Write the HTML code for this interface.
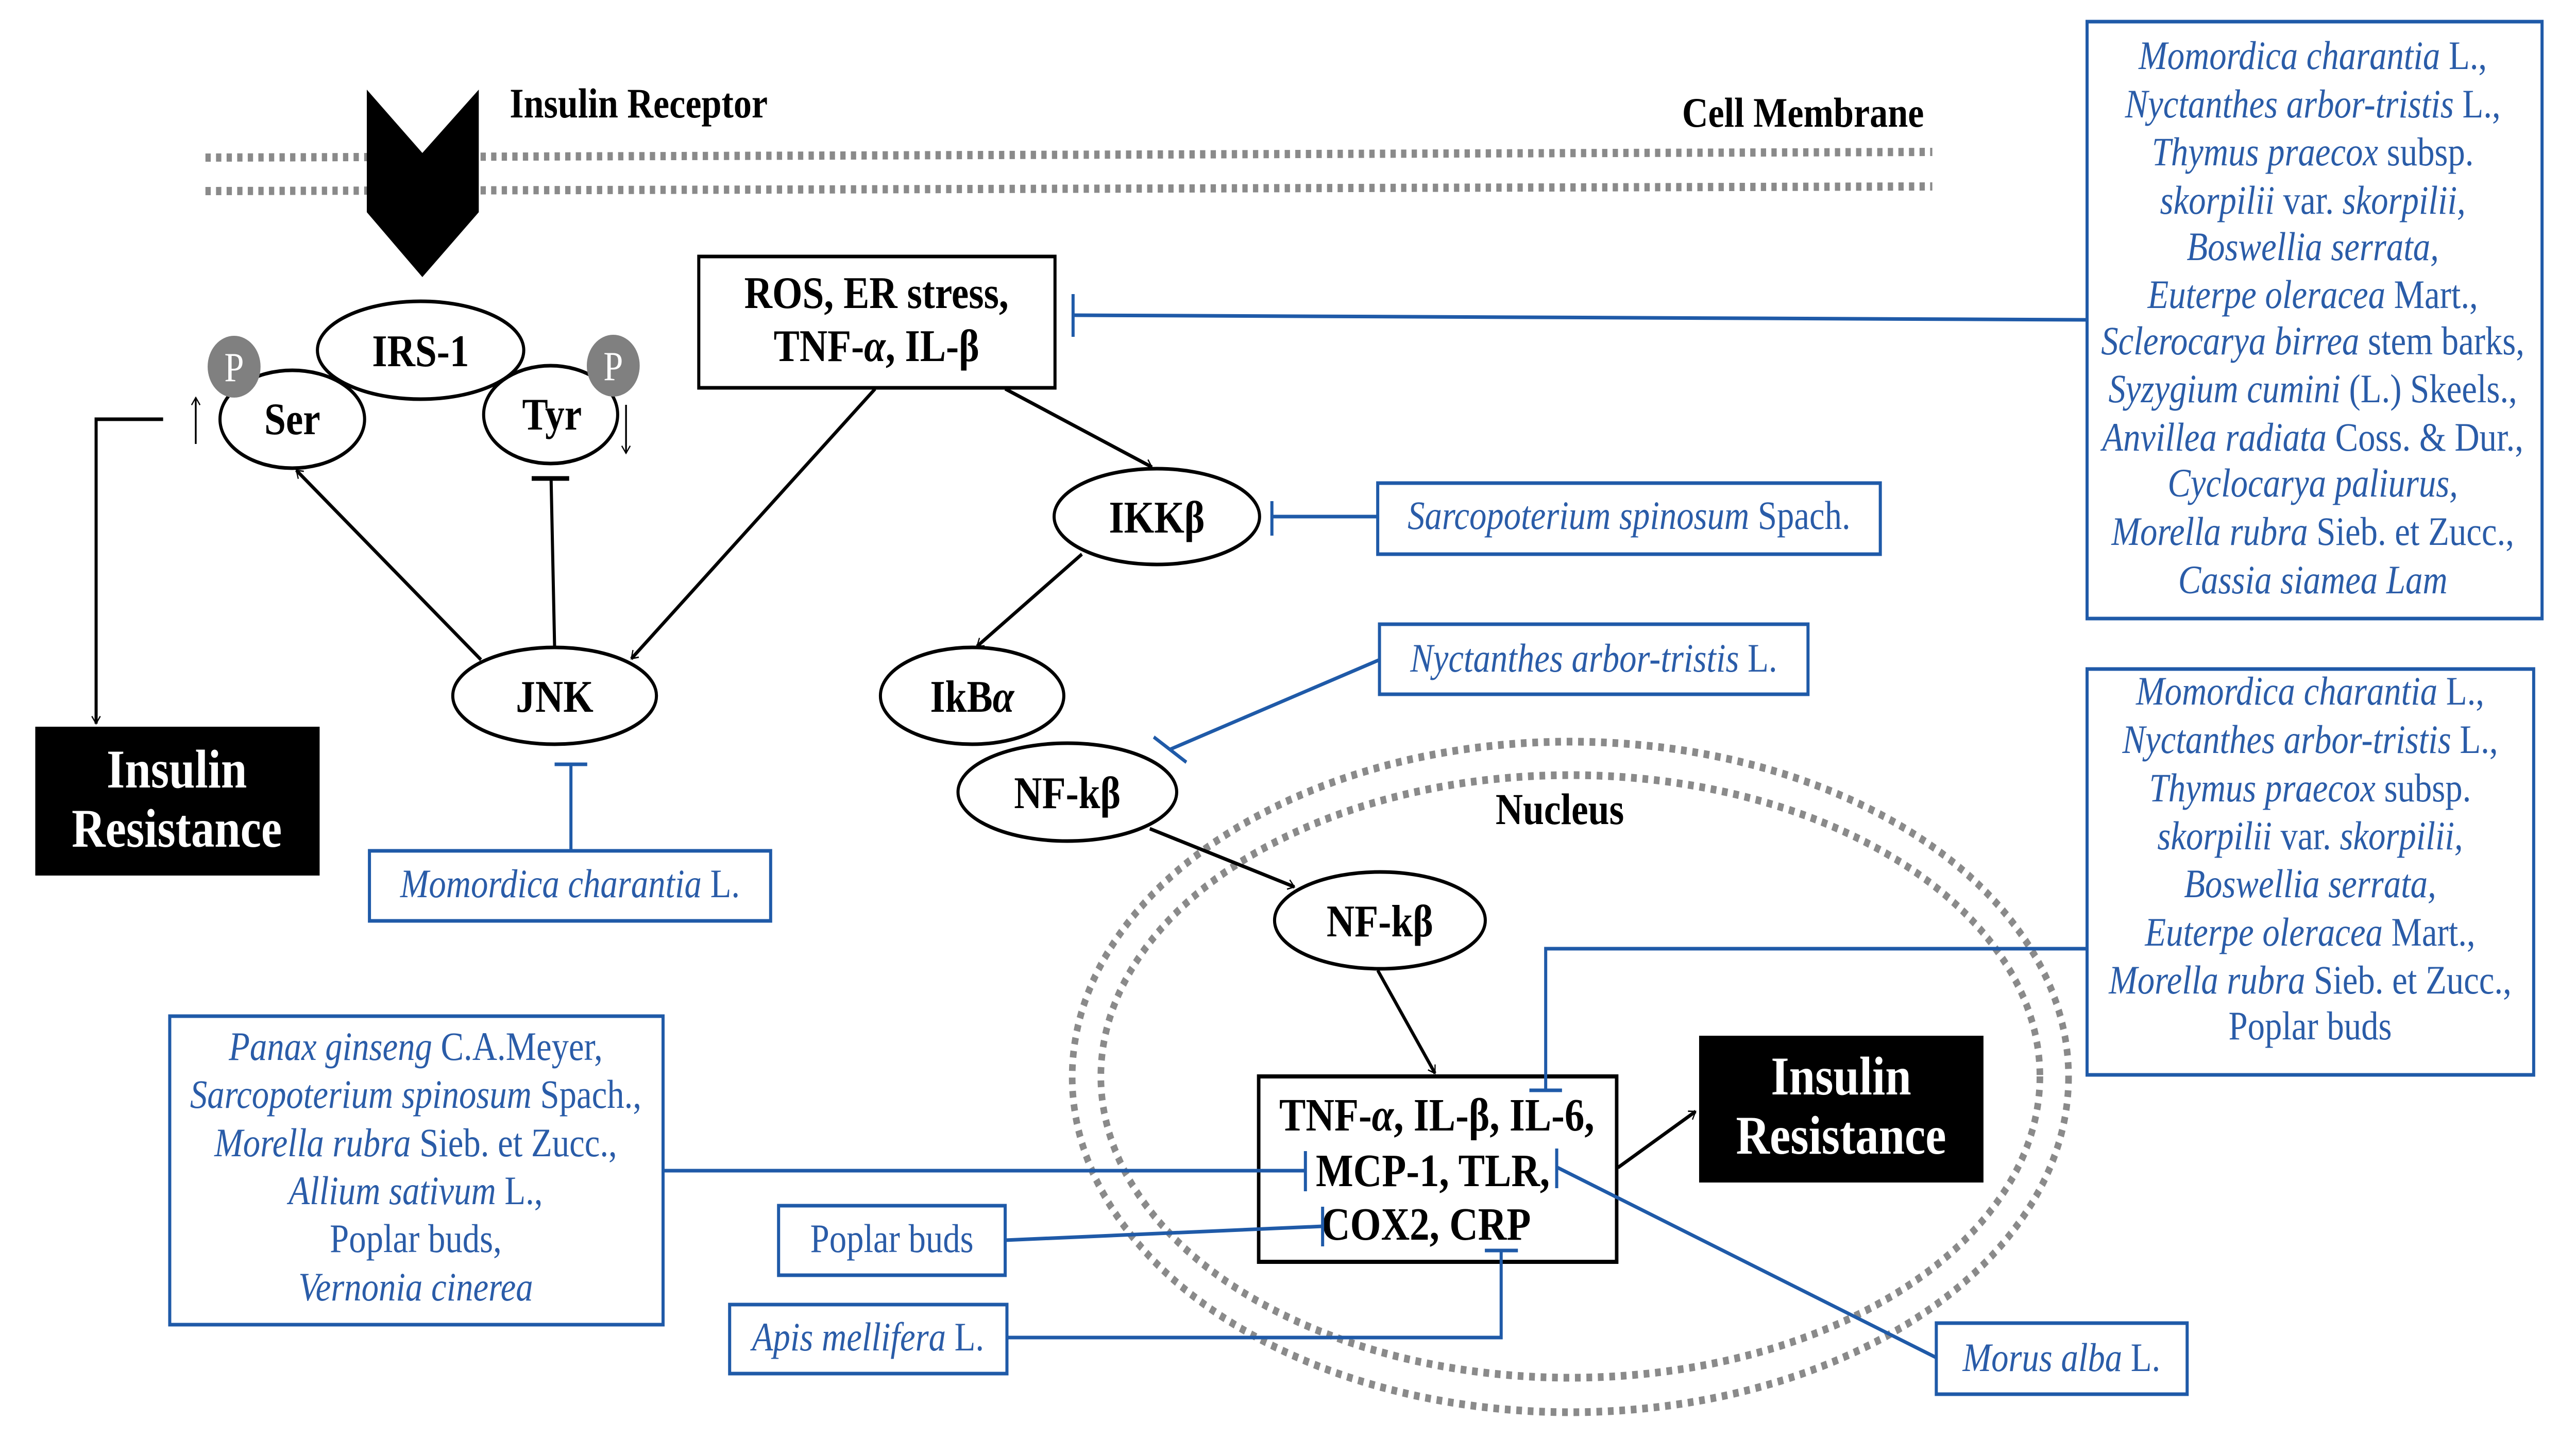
<!DOCTYPE html>
<html><head><meta charset="utf-8"><style>
html,body{margin:0;padding:0;background:#fff;overflow:hidden;width:100%;height:100%;}
svg{display:block;position:absolute;left:0;top:0;width:100vw;height:100vh;}
.b{font-family:"Liberation Serif",serif;font-weight:bold;fill:#000;text-anchor:middle;}
.w{font-family:"Liberation Serif",serif;font-weight:bold;fill:#fff;text-anchor:middle;font-size:106px;}
.t{font-family:"Liberation Serif",serif;fill:#2a5ca8;text-anchor:middle;font-size:78px;}
.i{font-style:italic;}
.bl{stroke:#1f5aa8;stroke-width:7;fill:none;}
.k{stroke:#000;stroke-width:7;fill:none;}
</style></head><body>
<svg viewBox="0 0 5843 2794" preserveAspectRatio="none" xmlns="http://www.w3.org/2000/svg">
<defs>
<marker id="a" viewBox="0 0 20 20" refX="18" refY="10" markerWidth="10" markerHeight="10" markerUnits="userSpaceOnUse" orient="auto" style="overflow:visible">
<path d="M-30,-22 L18,10 L-30,42" transform="scale(0.6) translate(12,7)" fill="none" stroke="#000" stroke-width="9"/>
</marker>
</defs>
<rect width="5843" height="2794" fill="#fff"/>

<line x1="466" y1="306" x2="4383" y2="295" stroke="#8a8a8a" stroke-width="16" stroke-dasharray="12 12"/>
<line x1="466" y1="371" x2="4383" y2="362" stroke="#8a8a8a" stroke-width="16" stroke-dasharray="12 12"/>
<polygon points="832,174 958,297 1086,174 1086,412 958,538 832,412" fill="#000"/>
<text x="1156" y="228" class="b" style="text-anchor:start;font-size:82px">Insulin Receptor</text>
<text x="4364" y="246" class="b" style="text-anchor:end;font-size:82px">Cell Membrane</text>

<ellipse cx="663" cy="814" rx="164" ry="95" fill="#fff" stroke="#000" stroke-width="7"/>
<ellipse cx="1249" cy="805" rx="152" ry="95" fill="#fff" stroke="#000" stroke-width="7"/>
<ellipse cx="954" cy="680" rx="234" ry="95" fill="#fff" stroke="#000" stroke-width="7"/>
<circle cx="531" cy="712" r="60" fill="#808080"/>
<circle cx="1391" cy="710" r="60" fill="#808080"/>
<text x="531" y="740" style="font-family:'Liberation Serif',serif;font-size:80px;fill:#fff;text-anchor:middle">P</text>
<text x="1391" y="738" style="font-family:'Liberation Serif',serif;font-size:80px;fill:#fff;text-anchor:middle">P</text>
<text x="954" y="711" class="b" style="font-size:88px">IRS-1</text>
<text x="663" y="843" class="b" style="font-size:88px">Ser</text>
<text x="1252" y="834" class="b" style="font-size:88px">Tyr</text>
<line x1="444" y1="862" x2="444" y2="772" stroke="#000" stroke-width="4" marker-end="url(#a)"/>
<line x1="1420" y1="786" x2="1420" y2="880" stroke="#000" stroke-width="4" marker-end="url(#a)"/>

<polyline points="370,814 218,814 218,1405" class="k" marker-end="url(#a)"/>
<rect x="80" y="1411" width="645" height="289" fill="#000"/>
<text x="401" y="1529" class="w">Insulin</text>
<text x="401" y="1644" class="w">Resistance</text>

<rect x="1585" y="498" width="808" height="255" fill="#fff" stroke="#000" stroke-width="7"/>
<text x="1988" y="598" class="b" style="font-size:88px">ROS, ER stress,</text>
<text x="1988" y="701" class="b" style="font-size:88px">TNF-<tspan font-style="italic">α</tspan>, IL-β</text>

<ellipse cx="1258" cy="1351" rx="231" ry="94" fill="#fff" stroke="#000" stroke-width="7"/>
<text x="1258" y="1382" class="b" style="font-size:88px">JNK</text>
<line x1="1091" y1="1281" x2="672" y2="913" class="k" marker-end="url(#a)"/>
<line x1="1258" y1="1257" x2="1250" y2="929" class="k"/>
<line x1="1206" y1="929" x2="1291" y2="929" stroke="#000" stroke-width="9"/>
<line x1="1985" y1="755" x2="1432" y2="1279" class="k" marker-end="url(#a)"/>
<line x1="2280" y1="755" x2="2613" y2="907" class="k" marker-end="url(#a)"/>

<ellipse cx="2624" cy="1003" rx="233" ry="93" fill="#fff" stroke="#000" stroke-width="7"/>
<text x="2624" y="1034" class="b" style="font-size:88px">IKKβ</text>
<line x1="2454" y1="1076" x2="2216" y2="1255" class="k" marker-end="url(#a)"/>
<ellipse cx="2205" cy="1351" rx="208" ry="94" fill="#fff" stroke="#000" stroke-width="7"/>
<text x="2205" y="1382" class="b" style="font-size:88px">IkB<tspan font-style="italic">α</tspan></text>
<ellipse cx="2421" cy="1538" rx="248" ry="95" fill="#fff" stroke="#000" stroke-width="7"/>
<text x="2421" y="1569" class="b" style="font-size:88px">NF-kβ</text>

<ellipse cx="3562" cy="2091" rx="1130" ry="651" fill="none" stroke="#8a8a8a" stroke-width="15" stroke-dasharray="13 13"/>
<ellipse cx="3562" cy="2090" rx="1065" ry="585" fill="none" stroke="#8a8a8a" stroke-width="15" stroke-dasharray="13 13"/>
<text x="3538" y="1600" class="b" style="font-size:86px">Nucleus</text>
<line x1="2608" y1="1609" x2="2936" y2="1722" class="k" marker-end="url(#a)"/>
<ellipse cx="3130" cy="1787" rx="239" ry="94" fill="#fff" stroke="#000" stroke-width="7"/>
<text x="3130" y="1818" class="b" style="font-size:88px">NF-kβ</text>
<line x1="3125" y1="1884" x2="3255" y2="2084" class="k" marker-end="url(#a)"/>

<rect x="2855" y="2090" width="812" height="360" fill="#fff" stroke="#000" stroke-width="8"/>
<text x="3259" y="2195" class="b" style="font-size:90px">TNF-<tspan font-style="italic">α</tspan>, IL-β, IL-6,</text>
<text x="3250" y="2303" class="b" style="font-size:90px">MCP-1, TLR,</text>
<text x="3235" y="2407" class="b" style="font-size:90px">COX2, CRP</text>
<line x1="3670" y1="2267" x2="3846" y2="2158" class="k" marker-end="url(#a)"/>
<rect x="3854" y="2011" width="645" height="285" fill="#000"/>
<text x="4176" y="2125" class="w">Insulin</text>
<text x="4176" y="2240" class="w">Resistance</text>

<line x1="2434" y1="612" x2="4734" y2="621" class="bl"/>
<line x1="2434" y1="571" x2="2434" y2="654" class="bl"/>
<rect x="4734" y="42" width="1032" height="1159" fill="#fff" class="bl"/>
<text class="t"><tspan x="5246" y="134"><tspan class="i">Momordica charantia</tspan> L.,</tspan><tspan x="5246" y="228"><tspan class="i">Nyctanthes arbor-tristis</tspan> L.,</tspan><tspan x="5246" y="321"><tspan class="i">Thymus praecox</tspan> subsp.</tspan><tspan x="5246" y="415"><tspan class="i">skorpilii</tspan> var. <tspan class="i">skorpilii,</tspan></tspan><tspan x="5246" y="505" class="i">Boswellia serrata,</tspan><tspan x="5246" y="598"><tspan class="i">Euterpe oleracea</tspan> Mart.,</tspan><tspan x="5246" y="688"><tspan class="i">Sclerocarya birrea</tspan> stem barks,</tspan><tspan x="5246" y="781"><tspan class="i">Syzygium cumini</tspan> (L.) Skeels.,</tspan><tspan x="5246" y="875"><tspan class="i">Anvillea radiata</tspan> Coss. &amp; Dur.,</tspan><tspan x="5246" y="964" class="i">Cyclocarya paliurus,</tspan><tspan x="5246" y="1058"><tspan class="i">Morella rubra</tspan> Sieb. et Zucc.,</tspan><tspan x="5246" y="1152" class="i">Cassia siamea Lam</tspan></text>

<line x1="2885" y1="1003" x2="3125" y2="1003" class="bl"/>
<line x1="2885" y1="973" x2="2885" y2="1040" class="bl"/>
<rect x="3125" y="938" width="1140" height="138" fill="#fff" class="bl"/>
<text x="3695" y="1027" class="t"><tspan class="i">Sarcopoterium spinosum</tspan> Spach.</text>

<line x1="3129" y1="1281" x2="2654" y2="1455" class="bl"/>
<line x1="2617" y1="1431" x2="2691" y2="1480" class="bl"/>
<rect x="3129" y="1212" width="972" height="136" fill="#fff" class="bl"/>
<text x="3615" y="1304" class="t"><tspan class="i">Nyctanthes arbor-tristis</tspan> L.</text>

<line x1="1295" y1="1484" x2="1295" y2="1652" class="bl"/>
<line x1="1258" y1="1484" x2="1332" y2="1484" class="bl"/>
<rect x="838" y="1652" width="910" height="136" fill="#fff" class="bl"/>
<text x="1293" y="1742" class="t"><tspan class="i">Momordica charantia</tspan> L.</text>

<line x1="1504" y1="2273" x2="2961" y2="2273" class="bl"/>
<line x1="2961" y1="2235" x2="2961" y2="2313" class="bl"/>
<rect x="385" y="1973" width="1119" height="599" fill="#fff" class="bl"/>
<text class="t"><tspan x="943" y="2058"><tspan class="i">Panax ginseng</tspan> C.A.Meyer,</tspan><tspan x="943" y="2151"><tspan class="i">Sarcopoterium spinosum</tspan> Spach.,</tspan><tspan x="943" y="2245"><tspan class="i">Morella rubra</tspan> Sieb. et Zucc.,</tspan><tspan x="943" y="2338"><tspan class="i">Allium sativum</tspan> L.,</tspan><tspan x="943" y="2431">Poplar buds,</tspan><tspan x="943" y="2525" class="i">Vernonia cinerea</tspan></text>

<line x1="2280" y1="2408" x2="3000" y2="2381" class="bl"/>
<line x1="3000" y1="2343" x2="3000" y2="2420" class="bl"/>
<rect x="1766" y="2341" width="514" height="135" fill="#fff" class="bl"/>
<text x="2023" y="2431" class="t">Poplar buds</text>

<polyline points="2284,2597 3405,2597 3405,2428" class="bl"/>
<line x1="3368" y1="2428" x2="3443" y2="2428" class="bl"/>
<rect x="1655" y="2533" width="629" height="134" fill="#fff" class="bl"/>
<text x="1969" y="2622" class="t"><tspan class="i">Apis mellifera</tspan> L.</text>

<polyline points="4734,1842 3506,1842 3506,2117" class="bl"/>
<line x1="3469" y1="2117" x2="3543" y2="2117" class="bl"/>
<rect x="4734" y="1299" width="1013" height="788" fill="#fff" class="bl"/>
<text class="t"><tspan x="5240" y="1368"><tspan class="i">Momordica charantia</tspan> L.,</tspan><tspan x="5240" y="1462"><tspan class="i">Nyctanthes arbor-tristis</tspan> L.,</tspan><tspan x="5240" y="1556"><tspan class="i">Thymus praecox</tspan> subsp.</tspan><tspan x="5240" y="1649"><tspan class="i">skorpilii</tspan> var. <tspan class="i">skorpilii,</tspan></tspan><tspan x="5240" y="1742" class="i">Boswellia serrata,</tspan><tspan x="5240" y="1836"><tspan class="i">Euterpe oleracea</tspan> Mart.,</tspan><tspan x="5240" y="1929"><tspan class="i">Morella rubra</tspan> Sieb. et Zucc.,</tspan><tspan x="5240" y="2018">Poplar buds</tspan></text>

<line x1="3533" y1="2267" x2="4392" y2="2636" class="bl"/>
<line x1="3531" y1="2230" x2="3531" y2="2307" class="bl"/>
<rect x="4392" y="2569" width="569" height="138" fill="#fff" class="bl"/>
<text x="4676" y="2662" class="t"><tspan class="i">Morus alba</tspan> L.</text>
</svg>
</body></html>
